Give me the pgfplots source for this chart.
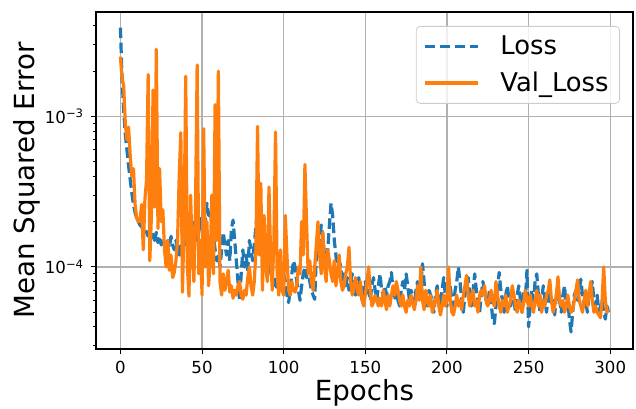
\documentclass[border=0pt]{standalone}
\usepackage{fontspec}
\setmainfont{DejaVu Sans}
\usepackage{pgfplots}
\usepackage{pgfplotstable}
\pgfplotsset{compat=1.18}
\definecolor{mplblue}{HTML}{1F77B4}
\definecolor{mplorange}{HTML}{FF7F0E}
\definecolor{gridgray}{HTML}{B0B0B0}
\pgfplotstableread{
ep loss val
0 3.9e-3 2.5e-3
1 1.8e-3 1.8e-3
2 1.1e-3 1.6e-3
3 7.6e-4 9.0e-4
4 6.0e-4 7.0e-4
5 4.7e-4 8.5e-4
6 3.8e-4 5.5e-4
7 3.1e-4 4.0e-4
8 2.6e-4 4.5e-4
9 2.3e-4 2.6e-4
10 2.1e-4 2.1e-4
11 2.0e-4 2.0e-4
12 1.9e-4 2.05e-4
13 1.85e-4 2.6e-4
14 1.75e-4 1.3e-4
15 1.8e-4 2.8e-4
16 1.7e-4 3.8e-4
17 1.6e-4 1.9e-3
18 1.75e-4 1.1e-4
19 1.55e-4 2.2e-4
20 1.65e-4 1.5e-3
21 1.5e-4 2.5e-4
22 1.7e-4 2.8e-3
23 1.45e-4 1.8e-4
24 1.6e-4 4.5e-4
25 1.4e-4 2.0e-4
26 1.55e-4 2.4e-4
27 1.45e-4 1.3e-4
28 1.3e-4 1.0e-4
29 1.5e-4 1.5e-4
30 1.35e-4 9.5e-5
31 1.6e-4 1.2e-4
32 1.4e-4 8.5e-5
33 1.3e-4 9.2e-5
34 1.5e-4 1.1e-4
35 1.35e-4 1.5e-4
36 1.2e-4 4.0e-4
37 1.45e-4 7.8e-4
38 1.3e-4 6.8e-5
39 1.55e-4 2.0e-4
40 1.4e-4 1.85e-3
41 1.7e-4 1.0e-4
42 1.5e-4 6.4e-5
43 1.9e-4 3.0e-4
44 2.0e-4 1.2e-4
45 1.6e-4 8.0e-5
46 1.8e-4 2.5e-4
47 1.5e-4 2.2e-3
48 1.7e-4 9.0e-5
49 2.1e-4 1.5e-4
50 1.8e-4 6.5e-5
51 2.3e-4 8.3e-4
52 2.0e-4 1.0e-4
53 2.65e-4 2.0e-4
54 2.2e-4 7.5e-5
55 2.4e-4 1.1e-4
56 1.9e-4 3.0e-4
57 1.6e-4 9.0e-5
58 1.3e-4 1.2e-3
59 1.1e-4 1.5e-4
60 1.2e-4 2.0e-3
61 1.0e-4 8.0e-5
62 1.3e-4 6.5e-5
63 1.7e-4 9.0e-5
64 1.4e-4 7.0e-5
65 1.2e-4 8.0e-5
66 1.5e-4 9.5e-5
67 1.1e-4 6.8e-5
68 1.8e-4 7.5e-5
69 2.05e-4 6.2e-5
70 1.5e-4 7.0e-5
71 1.1e-4 6.5e-5
72 8.0e-5 7.5e-5
73 6.0e-5 8.0e-5
74 9.0e-5 6.5e-5
75 1.3e-4 6.1e-5
76 1.0e-4 7.0e-5
77 1.2e-4 6.5e-5
78 9.5e-5 8.5e-5
79 1.5e-4 1.0e-4
80 1.3e-4 7.5e-5
81 1.1e-4 6.5e-5
82 1.4e-4 8.0e-5
83 1.9e-4 1.3e-4
84 2.2e-4 8.6e-4
85 2.5e-4 1.2e-4
86 1.8e-4 3.6e-4
87 1.4e-4 7.0e-5
88 1.2e-4 2.2e-4
89 1.0e-4 1.0e-4
90 8.5e-5 8.0e-5
91 1.0e-4 3.4e-4
92 1.2e-4 1.2e-4
93 9.0e-5 7.0e-5
94 7.5e-5 1.5e-4
95 8.5e-5 7.9e-4
96 7.0e-5 9.0e-5
97 9.0e-5 6.5e-5
98 8.0e-5 1.3e-4
99 7.0e-5 7.0e-5
100 9.0e-5 6.5e-5
101 8.0e-5 2.2e-4
102 6.5e-5 1.2e-4
103 5.8e-5 7.0e-5
104 7.0e-5 6.5e-5
105 9.0e-5 8.0e-5
106 1.1e-4 7.0e-5
107 1.0e-4 6.8e-5
108 8.0e-5 7.5e-5
109 7.0e-5 1.0e-4
110 6.0e-5 9.0e-5
111 7.5e-5 2.0e-4
112 9.0e-5 1.2e-4
113 1.0e-4 4.8e-4
114 8.5e-5 2.0e-4
115 1.0e-4 9.0e-5
116 8.0e-5 1.1e-4
117 7.0e-5 8.0e-5
118 6.5e-5 7.0e-5
119 6.1e-5 1.0e-4
120 1.2e-4 1.4e-4
121 1.8e-4 2.0e-4
122 1.4e-4 1.2e-4
123 1.9e-4 9.0e-5
124 1.6e-4 1.7e-4
125 1.2e-4 1.0e-4
126 1.0e-4 8.0e-5
127 1.3e-4 1.3e-4
128 1.9e-4 1.1e-4
129 2.65e-4 9.0e-5
130 2.2e-4 8.0e-5
131 1.5e-4 1.1e-4
132 1.2e-4 7.5e-5
133 9.0e-5 9.0e-5
134 1.1e-4 1.2e-4
135 1.0e-4 8.0e-5
136 8.0e-5 7.0e-5
137 9.0e-5 7.5e-5
138 7.5e-5 9.0e-5
139 8.5e-5 1.0e-4
140 7.0e-5 1.35e-4
141 8.0e-5 8.0e-5
142 9.0e-5 6.5e-5
143 7.0e-5 7.5e-5
144 6.5e-5 8.5e-5
145 7.5e-5 7.0e-5
146 8.5e-5 6.5e-5
147 7.0e-5 8.0e-5
148 6.0e-5 6.0e-5
149 7.5e-5 5.5e-5
150 8.0e-5 6.5e-5
151 6.5e-5 8.0e-5
152 7.0e-5 1.0e-4
153 6.0e-5 7.0e-5
154 7.5e-5 5.5e-5
155 8.5e-5 5.8e-5
156 7.0e-5 6.5e-5
157 6.0e-5 6.0e-5
158 7.5e-5 5.5e-5
159 9.0e-5 6.2e-5
160 7.0e-5 5.5e-5
161 6.5e-5 7.0e-5
162 7.5e-5 6.0e-5
163 6.5e-5 5.2e-5
164 7.5e-5 6.5e-5
165 8.0e-5 5.5e-5
166 9.2e-5 6.5e-5
167 7.0e-5 7.5e-5
168 6.0e-5 6.5e-5
169 7.0e-5 8.0e-5
170 6.0e-5 7.0e-5
171 5.5e-5 6.0e-5
172 7.0e-5 5.5e-5
173 8.0e-5 6.5e-5
174 7.0e-5 5.5e-5
175 9.0e-5 5.0e-5
176 7.5e-5 6.0e-5
177 6.0e-5 5.5e-5
178 7.0e-5 6.5e-5
179 6.5e-5 5.8e-5
180 5.5e-5 5.2e-5
181 7.0e-5 6.0e-5
182 8.0e-5 7.5e-5
183 6.5e-5 6.0e-5
184 7.5e-5 1.0e-4
185 1.05e-4 6.0e-5
186 8.0e-5 5.2e-5
187 6.0e-5 7.0e-5
188 5.5e-5 6.0e-5
189 7.0e-5 5.5e-5
190 6.5e-5 6.5e-5
191 6.0e-5 5.0e-5
192 5.0e-5 5.5e-5
193 6.5e-5 6.0e-5
194 7.5e-5 7.0e-5
195 6.0e-5 5.5e-5
196 5.5e-5 4.8e-5
197 7.0e-5 5.5e-5
198 8.5e-5 6.5e-5
199 6.5e-5 5.5e-5
200 5.5e-5 6.0e-5
201 6.5e-5 1.0e-4
202 7.5e-5 6.0e-5
203 6.0e-5 5.0e-5
204 5.5e-5 4.8e-5
205 7.0e-5 5.5e-5
206 8.0e-5 6.5e-5
207 1.0e-4 5.5e-5
208 8.0e-5 6.0e-5
209 6.0e-5 5.2e-5
210 5.0e-5 6.5e-5
211 6.5e-5 7.5e-5
212 7.5e-5 8.8e-5
213 8.5e-5 6.5e-5
214 6.5e-5 5.5e-5
215 5.5e-5 6.5e-5
216 7.0e-5 7.0e-5
217 9.0e-5 5.5e-5
218 7.0e-5 6.0e-5
219 6.0e-5 5.0e-5
220 5.0e-5 6.5e-5
221 6.5e-5 7.0e-5
222 8.0e-5 6.5e-5
223 7.0e-5 7.5e-5
224 6.0e-5 6.0e-5
225 5.5e-5 5.5e-5
226 7.0e-5 6.0e-5
227 6.0e-5 7.0e-5
228 4.5e-5 6.0e-5
229 4.2e-5 5.5e-5
230 5.5e-5 8.0e-5
231 7.5e-5 6.5e-5
232 9.2e-5 5.5e-5
233 7.0e-5 5.0e-5
234 6.0e-5 6.0e-5
235 5.0e-5 5.5e-5
236 6.5e-5 6.5e-5
237 7.5e-5 5.0e-5
238 6.0e-5 5.5e-5
239 5.5e-5 6.0e-5
240 7.0e-5 7.5e-5
241 6.0e-5 6.5e-5
242 5.0e-5 5.5e-5
243 6.5e-5 5.0e-5
244 7.5e-5 6.0e-5
245 6.0e-5 5.5e-5
246 5.0e-5 5.0e-5
247 7.0e-5 5.8e-5
248 6.0e-5 7.0e-5
249 9.5e-5 6.0e-5
250 4.0e-5 5.5e-5
251 5.5e-5 6.5e-5
252 7.0e-5 5.5e-5
253 6.0e-5 5.0e-5
254 8.0e-5 6.0e-5
255 9.0e-5 7.0e-5
256 6.5e-5 5.5e-5
257 5.0e-5 6.5e-5
258 6.0e-5 5.0e-5
259 7.5e-5 6.0e-5
260 6.0e-5 5.5e-5
261 5.0e-5 6.5e-5
262 6.5e-5 7.0e-5
263 7.0e-5 8.2e-5
264 5.5e-5 6.0e-5
265 6.0e-5 5.0e-5
266 4.8e-5 5.5e-5
267 6.5e-5 6.5e-5
268 7.5e-5 8.6e-5
269 6.0e-5 6.0e-5
270 5.0e-5 5.5e-5
271 6.5e-5 6.0e-5
272 7.5e-5 5.0e-5
273 5.5e-5 5.5e-5
274 6.0e-5 6.5e-5
275 4.5e-5 5.5e-5
276 3.7e-5 5.0e-5
277 5.0e-5 5.2e-5
278 6.5e-5 6.0e-5
279 7.0e-5 7.0e-5
280 6.0e-5 8.2e-5
281 7.0e-5 6.0e-5
282 8.3e-5 5.5e-5
283 6.5e-5 5.0e-5
284 5.5e-5 6.0e-5
285 6.0e-5 7.0e-5
286 5.0e-5 5.5e-5
287 6.5e-5 6.5e-5
288 7.0e-5 8.0e-5
289 8.0e-5 6.0e-5
290 6.0e-5 5.0e-5
291 5.5e-5 5.5e-5
292 6.5e-5 5.0e-5
293 5.0e-5 4.8e-5
294 5.5e-5 4.6e-5
295 6.0e-5 6.0e-5
296 5.0e-5 1.0e-4
297 4.5e-5 6.0e-5
298 5.5e-5 5.0e-5
299 5.0e-5 5.2e-5
}\datatable
\begin{document}
\begin{tikzpicture}
\begin{axis}[
  scale only axis,
  width=268.5pt, height=168.5pt,
  ymode=log,
  xmin=-14.95, xmax=313.95,
  ymin=2.85e-5, ymax=4.95e-3,
  xtick={0,50,100,150,200,250,300},
  ytick={1e-4,1e-3},
  yticklabels={10\textsuperscript{−4},10\textsuperscript{−3}},
  minor ytick={3e-5,4e-5,5e-5,6e-5,7e-5,8e-5,9e-5,2e-4,3e-4,4e-4,5e-4,6e-4,7e-4,8e-4,9e-4,2e-3,3e-3,4e-3},
  /pgf/number format/assume math mode=true,
  tick align=outside,
  tick pos=left,
  major tick length=2.4pt,
  minor tick length=1.4pt,
  every tick/.style={black, line width=0.5pt},
  ticklabel style={font=\fontsize{8.3}{10}\selectfont},
  grid=major,
  major grid style={gridgray, line width=0.55pt},
  axis line style={line width=0.55pt, black},
  xlabel={Epochs},
  ylabel={Mean Squared Error},
  label style={font=\fontsize{13.85}{16}\selectfont},
  xlabel style={at={(axis description cs:0.5,-0.1306)}, anchor=center},
  ylabel style={at={(axis description cs:-0.1285,0.5)}, anchor=center, rotate=0},
  legend style={at={(axis description cs:0.9758,0.9585)}, anchor=north east,
    font=\fontsize{12.9}{15}\selectfont, draw=black!20, fill=white, fill opacity=0.8, text opacity=1,
    rounded corners=2pt, inner xsep=3.5pt, inner ysep=2.5pt, row sep=3.3pt},
  legend cell align=left,
  legend image code/.code={\draw[#1] (0pt,0pt) -- (26.5pt,0pt); \path (35pt,0pt);},
]
\addplot[mplblue, line width=1.6pt, dash pattern=on 5.3pt off 2.2pt, line join=round] table[x=ep, y=loss] {\datatable};
\addlegendentry{Loss}
\addplot[mplorange, line width=1.6pt, line join=round] table[x=ep, y=val] {\datatable};
\addlegendentry{Val\_Loss}
\end{axis}
\pgfresetboundingbox
\path[use as bounding box] ([shift={(-48pt,-30pt)}]current axis.south west) rectangle ([shift={(1.5pt,6pt)}]current axis.north east);
\end{tikzpicture}
\end{document}
